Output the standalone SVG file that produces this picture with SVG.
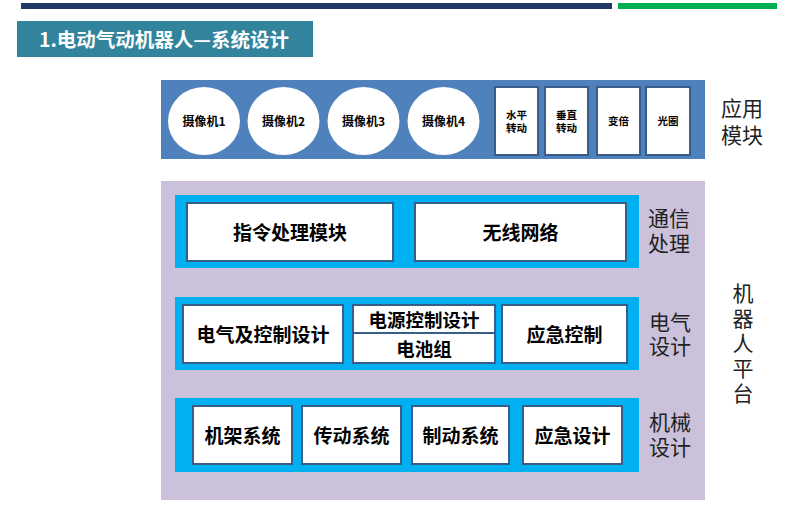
<svg xmlns="http://www.w3.org/2000/svg" width="796" height="520" viewBox="0 0 796 520">
<style>
text{font-family:"Noto Sans CJK SC","Liberation Sans",sans-serif;}
.box{fill:#ffffff;stroke:#385D8A;stroke-width:2;}
.bt{font-size:19px;font-weight:bold;fill:#000;text-anchor:middle;dominant-baseline:central;}
.cam{font-size:12px;font-weight:bold;fill:#000;text-anchor:middle;dominant-baseline:central;}
.sm{font-size:10.5px;font-weight:bold;fill:#000;text-anchor:middle;dominant-baseline:central;}
.side{font-size:21px;fill:#222;text-anchor:middle;dominant-baseline:central;}
.cyan{fill:#00B0F0;}
</style>
<rect width="796" height="520" fill="#ffffff"/>
<g id="header">
<rect x="21" y="3" width="591" height="6" fill="#1F3864"/>
<rect x="618" y="3" width="159" height="6" fill="#00B050"/>
<rect x="17" y="21" width="296" height="36" fill="#31849B"/>
<text x="164" y="38.5" font-size="19.5" font-weight="bold" fill="#ffffff" text-anchor="middle" dominant-baseline="central">1.电动气动机器人—系统设计</text>
</g>
<g id="app-module">
<rect x="161" y="80" width="544" height="79" fill="#4F81BD"/>
<g id="cam1"><ellipse cx="204" cy="121" rx="36" ry="34" fill="#fff"/><text class="cam" x="204" y="120.5">摄像机1</text></g>
<g id="cam2"><ellipse cx="283.5" cy="121" rx="36" ry="34" fill="#fff"/><text class="cam" x="283.5" y="120.5">摄像机2</text></g>
<g id="cam3"><ellipse cx="363.5" cy="121" rx="36" ry="34" fill="#fff"/><text class="cam" x="363.5" y="120.5">摄像机3</text></g>
<g id="cam4"><ellipse cx="443.5" cy="121" rx="36" ry="34" fill="#fff"/><text class="cam" x="443.5" y="120.5">摄像机4</text></g>
<g id="pan"><rect class="box" x="495" y="87" width="43" height="68"/><text class="sm" x="516.5" y="114">水平</text><text class="sm" x="516.5" y="127">转动</text></g>
<g id="tilt"><rect class="box" x="545" y="87" width="43" height="68"/><text class="sm" x="566.5" y="114">垂直</text><text class="sm" x="566.5" y="127">转动</text></g>
<g id="zoom"><rect class="box" x="597" y="87" width="43" height="68"/><text class="sm" x="618.5" y="120.5">变倍</text></g>
<g id="iris"><rect class="box" x="646" y="87" width="44" height="68"/><text class="sm" x="668" y="120.5">光圈</text></g>
<g id="app-label"><text class="side" x="742" y="107">应用</text><text class="side" x="742" y="134">模块</text></g>
</g>
<g id="platform">
<rect x="161" y="181" width="544" height="319" fill="#CCC1DA"/>
<g id="platform-label">
<text class="side" x="743" y="292">机</text>
<text class="side" x="743" y="317">器</text>
<text class="side" x="743" y="342">人</text>
<text class="side" x="743" y="367">平</text>
<text class="side" x="743" y="392">台</text>
</g>
</g>
<g id="comm-row">
<rect class="cyan" x="175" y="195" width="464" height="73"/>
<g id="cmd"><rect class="box" x="187" y="203" width="206" height="58"/><text class="bt" x="290" y="231">指令处理模块</text></g>
<g id="wireless"><rect class="box" x="415" y="203" width="211" height="58"/><text class="bt" x="520.5" y="231">无线网络</text></g>
<g id="comm-label"><text class="side" x="669" y="217">通信</text><text class="side" x="669" y="242">处理</text></g>
</g>
<g id="elec-row">
<rect class="cyan" x="175" y="297" width="464" height="73"/>
<g id="elec-ctrl"><rect class="box" x="183" y="305" width="160" height="58"/><text class="bt" x="263" y="333">电气及控制设计</text></g>
<g id="power"><rect class="box" x="353" y="305" width="142" height="28"/><text class="bt" x="424" y="318.5" style="font-size:18.5px">电源控制设计</text></g>
<g id="battery"><rect class="box" x="353" y="333" width="142" height="30"/><text class="bt" x="424" y="347.5" style="font-size:18.5px">电池组</text></g>
<g id="emerg-ctrl"><rect class="box" x="502" y="305" width="125" height="58"/><text class="bt" x="564.5" y="333">应急控制</text></g>
<g id="elec-label"><text class="side" x="670" y="321">电气</text><text class="side" x="670" y="345">设计</text></g>
</g>
<g id="mech-row">
<rect class="cyan" x="175" y="398" width="464" height="74"/>
<g id="frame"><rect class="box" x="193" y="406" width="99" height="58"/><text class="bt" x="242.5" y="434">机架系统</text></g>
<g id="transmission"><rect class="box" x="302" y="406" width="99" height="58"/><text class="bt" x="351.5" y="434">传动系统</text></g>
<g id="brake"><rect class="box" x="412" y="406" width="97" height="58"/><text class="bt" x="460.5" y="434">制动系统</text></g>
<g id="emerg-design"><rect class="box" x="523" y="406" width="99" height="58"/><text class="bt" x="572.5" y="434">应急设计</text></g>
<g id="mech-label"><text class="side" x="670" y="421">机械</text><text class="side" x="670" y="446">设计</text></g>
</g>
<g id="connectors"></g>
</svg>
